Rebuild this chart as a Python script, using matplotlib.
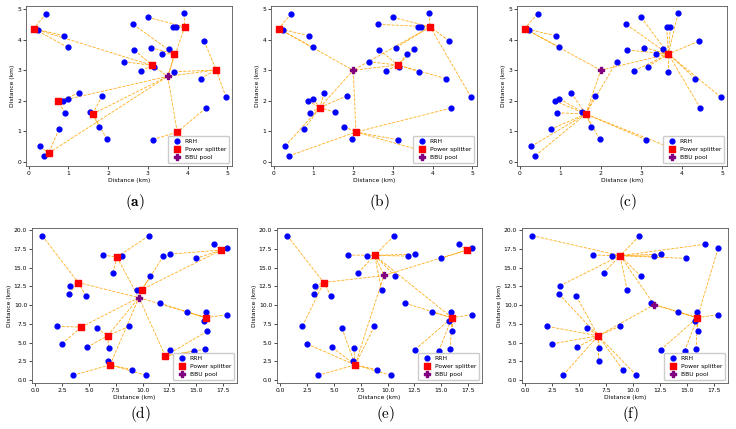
import numpy as np
import matplotlib
matplotlib.use("Agg")
from matplotlib import pyplot as plt

plt.rcParams['mathtext.fontset'] = 'cm'

# RRH positions, 5 km area (panels a-c)
rrh5_x = [0.44, 0.23, 0.89, 0.98, 3.00, 3.91, 2.63, 3.63, 3.72, 2.66, 3.08, 3.53,
          3.36, 4.42, 2.39, 3.16, 2.83, 3.67, 4.33, 4.97, 1.27, 1.85, 0.98, 0.86,
          0.92, 1.54, 1.77, 1.97, 0.76, 0.28, 0.38, 3.12, 4.46, 4.37]
rrh5_y = [4.85, 4.33, 4.13, 3.75, 4.73, 4.86, 4.50, 4.40, 4.40, 3.66, 3.74, 3.68,
          3.54, 3.95, 3.28, 3.12, 2.98, 2.95, 2.73, 2.12, 2.26, 2.17, 2.07, 2.00,
          1.61, 1.63, 1.16, 0.74, 1.07, 0.51, 0.20, 0.73, 1.76, 0.13]

# RRH positions, 20 km area (panels d-f)
rrh20_x = [0.65, 10.58, 16.65, 17.88, 6.31, 8.09, 11.94, 12.58, 14.95, 7.26, 10.74,
           3.20, 9.45, 3.11, 4.74, 11.63, 14.12, 15.90, 17.85, 15.72, 2.06, 5.75,
           8.77, 16.00, 2.49, 4.83, 6.86, 12.55, 14.77, 15.85, 6.80, 9.05, 10.31, 3.51]
rrh20_y = [19.28, 19.24, 18.12, 17.58, 16.69, 16.60, 16.55, 16.82, 16.24, 14.32, 13.83,
           12.57, 11.99, 11.50, 11.19, 10.25, 9.08, 9.04, 8.72, 7.83, 7.16, 6.94,
           7.16, 6.49, 4.83, 4.38, 4.34, 4.03, 3.85, 4.12, 2.60, 1.39, 0.63, 0.63]

# panel (a)
sp_a_x = [0.12, 3.93, 3.67, 3.11, 4.72, 0.73, 1.61, 3.74, 0.50]
sp_a_y = [4.36, 4.42, 3.53, 3.16, 3.01, 1.98, 1.57, 0.98, 0.29]
bbu_a = (3.50, 2.80)
rrh_a = [0, 0, 0, 0, 1, 1, 2, 1, 1, 3, 2, 2, 2, 4, 3, 3, 3, 4, 4, 4, 5, 6, 5, 5,
         5, 6, 6, 6, 8, 8, 8, 7, 7, 7]
par_a = [3, -1, -1, -1, -1, -1, -1, -1, -1]

# panel (b)
sp_b_x = [0.12, 3.94, 3.13, 1.16, 2.07]
sp_b_y = [4.36, 4.42, 3.17, 1.78, 0.98]
bbu_b = (2.00, 3.00)
rrh_b = [0, 0, 0, 0, 1, 1, 1, 1, 1, 2, 1, 2, 2, 1, 2, 2, 2, 2, 2, 1, 3, 3, 3, 3,
         3, 3, 4, 4, 3, 3, 4, 4, 4, 4]
par_b = [-1, -1, -1, -1, -1]

# panel (c)
sp_c_x = [0.12, 3.67, 1.63]
sp_c_y = [4.36, 3.53, 1.57]
bbu_c = (2.00, 3.00)
rrh_c = [0, 0, 0, 0, 1, 1, 1, 1, 1, 1, 1, 1, 1, 1, 2, 1, 1, 1, 1, 1, 2, 2, 2, 2,
         2, 2, 2, 2, 2, 2, 2, 2, 1, 2]
par_c = [-1, -1, -1]

# panel (d)
sp_d_x = [4.00, 7.60, 9.94, 17.35, 15.90, 4.28, 6.74, 12.12, 6.98]
sp_d_y = [13.02, 16.42, 12.08, 17.36, 8.32, 7.07, 5.91, 3.22, 2.01]
bbu_d = (9.66, 11.00)
rrh_d = [0, 1, 3, 3, 1, 1, 2, 3, 3, 1, 2, 0, 2, 0, 0, 4, 4, 4, 4, 4, 5, 6, 6, 7,
         5, 6, 6, 7, 7, 7, 8, 8, 8, 8]
par_d = [-1, -1, -1, 2, -1, -1, -1, -1, -1]

# panel (e)
sp_e_x = [4.05, 8.80, 17.40, 16.00, 6.98]
sp_e_y = [13.02, 16.64, 17.36, 8.32, 2.01]
bbu_e = (9.66, 13.96)
rrh_e = [0, 1, 2, 2, 1, 1, 1, 1, 2, 1, 1, 0, 1, 0, 0, 3, 3, 3, 3, 3, 0, 4, 4, 3,
         4, 4, 4, 3, 3, 3, 4, 4, 4, 4]
par_e = [-1, -1, -1, 1, -1]

# panel (f)
sp_f_x = [8.80, 15.96, 6.76]
sp_f_y = [16.60, 8.32, 5.90]
bbu_f = (11.95, 10.05)
rrh_f = [0, 0, 0, 1, 0, 0, 0, 0, 0, 0, 0, 0, 0, 2, 2, 1, 1, 1, 1, 1, 2, 2, 2, 1,
         2, 2, 2, 1, 1, 1, 2, 2, 2, 2]
par_f = [-1, -1, -1]

captions = [r'$(\mathbf{a})$', r'$(\mathrm{b})$', r'$(\mathrm{c})$',
            r'$(\mathrm{d})$', r'$(\mathrm{e})$', r'$(\mathrm{f})$']

FS = 4.3


def draw_panel(ax, rx, ry, sx, sy, bbu, rrh_par, sp_par, small):
    line_kw = dict(color='orange', linestyle='--', linewidth=0.6, alpha=0.9, zorder=1)
    for i in range(len(rx)):
        p = rrh_par[i]
        tx, ty = (bbu if p < 0 else (sx[p], sy[p]))
        ax.plot([rx[i], tx], [ry[i], ty], **line_kw)
    for j in range(len(sx)):
        p = sp_par[j]
        tx, ty = (bbu if p < 0 else (sx[p], sy[p]))
        ax.plot([sx[j], tx], [sy[j], ty], **line_kw)
    ax.scatter(rx, ry, s=12, color='blue', zorder=3, label='RRH')
    ax.scatter(sx, sy, s=18, marker='s', color='red', zorder=4, label='Power splitter')
    ax.scatter([bbu[0]], [bbu[1]], s=22, marker='P', color='purple', zorder=5, label='BBU pool')
    if small:
        ax.set_xlim(-0.07, 5.12)
        ax.set_ylim(-0.13, 5.1)
        ax.set_xticks(range(6))
        ax.set_yticks(range(6))
    else:
        ax.set_xlim(-0.3, 18.8)
        ax.set_ylim(-0.4, 20.3)
        ax.set_xticks(np.arange(0, 18, 2.5))
        ax.set_yticks(np.arange(0, 20.1, 2.5))
    ax.set_xlabel('Distance (km)', fontsize=FS, labelpad=1.5)
    ax.set_ylabel('Distance (km)', fontsize=FS, labelpad=1.5)
    ax.tick_params(labelsize=FS, length=2, width=0.5, pad=1.5)
    for s in ax.spines.values():
        s.set_linewidth(0.6)
        s.set_color('#555555')
    ax.legend(loc='lower right', fontsize=FS, markerscale=1.0, handletextpad=0.3,
              borderpad=0.5, labelspacing=0.5, framealpha=1)


fig = plt.figure(figsize=(7.36, 4.29), dpi=100)

boxes = [
    (26, 6, 232, 166), (271, 6, 477, 166), (517, 6, 727, 166),
    (32, 228, 237, 383), (277, 228, 482, 383), (522, 228, 728, 383),
]
panels = [
    (rrh5_x, rrh5_y, sp_a_x, sp_a_y, bbu_a, rrh_a, par_a, True),
    (rrh5_x, rrh5_y, sp_b_x, sp_b_y, bbu_b, rrh_b, par_b, True),
    (rrh5_x, rrh5_y, sp_c_x, sp_c_y, bbu_c, rrh_c, par_c, True),
    (rrh20_x, rrh20_y, sp_d_x, sp_d_y, bbu_d, rrh_d, par_d, False),
    (rrh20_x, rrh20_y, sp_e_x, sp_e_y, bbu_e, rrh_e, par_e, False),
    (rrh20_x, rrh20_y, sp_f_x, sp_f_y, bbu_f, rrh_f, par_f, False),
]
cap_y = [202, 202, 202, 414, 414, 414]

W, H = 736, 429
for k, (b, p) in enumerate(zip(boxes, panels)):
    l, t, r, bt = b
    ax = fig.add_axes([l / W, 1 - bt / H, (r - l) / W, (bt - t) / H])
    draw_panel(ax, *p)
    fig.text((l + r) / 2 / W + 0.008, 1 - cap_y[k] / H, captions[k], fontsize=11,
             ha='center', va='center')

fig.savefig('out.png', dpi=100)
